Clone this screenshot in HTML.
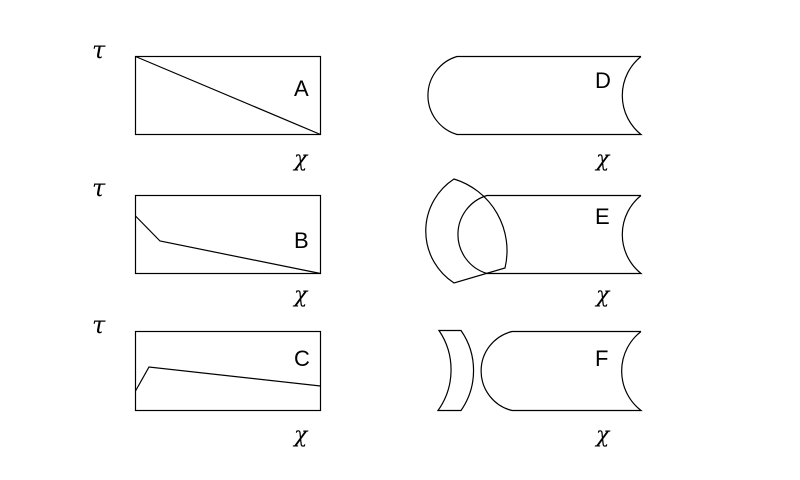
<!DOCTYPE html>
<html><head><style>body{margin:0;background:#fff}</style></head><body>
<svg width="800" height="475" viewBox="0 0 800 475" xmlns="http://www.w3.org/2000/svg" fill="none" stroke="#000" stroke-width="1.2">
<g font-family="Liberation Sans, sans-serif" fill="#000" stroke="none" font-size="22">
<text x="92" y="58" font-style="italic" font-family="DejaVu Serif, serif" font-size="24">τ</text>
<text x="92" y="196" font-style="italic" font-family="DejaVu Serif, serif" font-size="24">τ</text>
<text x="92" y="333" font-style="italic" font-family="DejaVu Serif, serif" font-size="24">τ</text>
<text x="294" y="96">A</text>
<text x="294" y="248">B</text>
<text x="294" y="366">C</text>
<text x="595" y="88">D</text>
<text x="595" y="224">E</text>
<text x="595" y="366">F</text>
<g font-style="italic" font-family="DejaVu Serif, serif" font-size="22">
<text x="294" y="166">χ</text><text x="294" y="302">χ</text><text x="294" y="442">χ</text>
<text x="596" y="166">χ</text><text x="596" y="302">χ</text><text x="596" y="442">χ</text>
</g></g>
<rect x="135.5" y="56.5" width="185" height="78"/>
<line x1="135.5" y1="56.5" x2="320.5" y2="134.5"/>
<rect x="135.5" y="195.5" width="185" height="78"/>
<polyline points="135.5,216 160,241 320.5,273.5"/>
<rect x="135.5" y="331.5" width="185" height="79"/>
<polyline points="135.5,391 149,367 320.5,386"/>
<path d="M641,56.5 H457 A40.7 40.7 0 0 0 457,134.5 H641 A50 50 0 0 1 641,56.5"/>
<path d="M641,195.5 H487 A40.7 40.7 0 0 0 487,273.5 H641 A50 50 0 0 1 641,195.5"/>
<path d="M454,179 A62 62 0 0 0 454,283 L505,268 A75 75 0 0 0 454,179 Z"/>
<path d="M641,331.5 H512 A40.7 40.7 0 0 0 512,410.5 H641 A50 50 0 0 1 641,331.5"/>
<path d="M439,330.5 H461 A70 70 0 0 1 461,410.5 H438 A70 70 0 0 0 439,330.5 Z"/>
</svg>
</body></html>
